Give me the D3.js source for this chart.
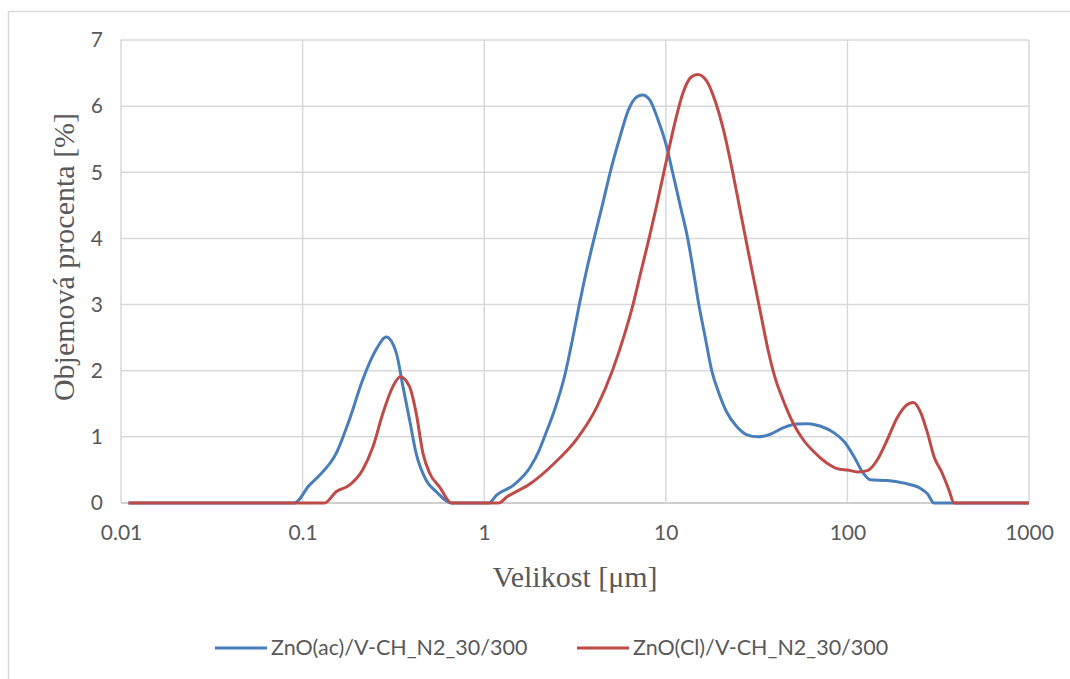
<!DOCTYPE html>
<html>
<head>
<meta charset="utf-8">
<script src="https://cdn.jsdelivr.net/npm/d3@7"></script>
<style>
  html, body { margin: 0; padding: 0; background: #fff; }
  svg { display: block; }
  .tick-label { font-family: Lato, "Liberation Sans", sans-serif; font-size: 21px; fill: #595959; }
  .axis-title { font-family: "Liberation Serif", "DejaVu Serif", serif; font-size: 30px; fill: #595959; }
  .legend-label { font-family: Lato, "Liberation Sans", sans-serif; font-size: 21.5px; fill: #595959; }
</style>
</head>
<body>
<div id="chart"></div>
<script>
  // ── Data (size in µm, volume %) ──
  const acSizes  = [0.011, 0.05, 0.090, 0.109, 0.124, 0.153, 0.181, 0.214, 0.254, 0.289, 0.328, 0.357, 0.388, 0.422, 0.480, 0.545, 0.660,
                    1.06, 1.17, 1.45, 1.79, 2.01, 2.14, 2.45, 2.79, 3.05, 3.33, 3.65, 4.03, 4.47, 4.94, 5.60, 6.22, 6.91, 7.45, 8.17, 9.07,
                    10.1, 10.9, 12.0, 13.2, 14.2, 15.2, 16.5, 17.9, 19.5, 21.6, 24.5, 27.8, 32.2, 37.3, 44.2, 52.4, 60.7, 71.3, 84.5, 95.9,
                    108.8, 121, 134, 166, 205, 253, 276, 300, 1000];
  const acValues = [0, 0, 0, 0.27, 0.42, 0.75, 1.26, 1.86, 2.32, 2.51, 2.27, 1.76, 1.26, 0.75, 0.34, 0.17, 0,
                    0, 0.12, 0.27, 0.54, 0.8, 0.99, 1.42, 1.95, 2.45, 2.98, 3.5, 4.0, 4.5, 5.0, 5.54, 5.94, 6.14, 6.17, 6.09, 5.79,
                    5.39, 5.0, 4.5, 4.0, 3.5, 3.0, 2.5, 2.0, 1.68, 1.38, 1.16, 1.035, 1.0, 1.035, 1.135, 1.195, 1.20, 1.16, 1.06, 0.93,
                    0.70, 0.47, 0.35, 0.34, 0.30, 0.22, 0.14, 0, 0];

  const clSizes  = [0.011, 0.05, 0.132, 0.153, 0.181, 0.214, 0.244, 0.277, 0.314, 0.345, 0.388, 0.422, 0.460, 0.501, 0.569, 0.660,
                    1.2, 1.33, 1.79, 2.41, 3.24, 4.17, 5.08, 5.85, 6.60, 7.3, 8.09, 8.89, 10.1, 11.2, 12.4, 13.8, 15.0, 16.7, 18.9, 21.0,
                    23.4, 25.4, 28.4, 30.9, 33.6, 36.6, 39.8, 44.2, 50.2, 57.0, 64.7, 76.6, 90.7, 100, 113.5, 129, 146, 166, 188, 214,
                    231, 253, 276, 300, 333, 363, 387, 1000];
  const clValues = [0, 0, 0, 0.17, 0.27, 0.50, 0.85, 1.36, 1.76, 1.91, 1.76, 1.36, 0.75, 0.45, 0.24, 0,
                    0, 0.09, 0.29, 0.59, 0.97, 1.45, 2.0, 2.5, 3.0, 3.5, 4.0, 4.49, 5.19, 5.74, 6.19, 6.44, 6.48, 6.39, 6.04, 5.59,
                    4.99, 4.49, 3.81, 3.31, 2.81, 2.31, 1.91, 1.56, 1.21, 0.96, 0.785, 0.61, 0.51, 0.50, 0.47, 0.49, 0.65, 0.96, 1.29, 1.49,
                    1.52, 1.37, 1.06, 0.70, 0.45, 0.19, 0, 0];

  const xTicks = [0.01, 0.1, 1, 10, 100, 1000];
  const xTickLabels = ['0.01', '0.1', '1', '10', '100', '1000'];
  const yTicks = [0, 1, 2, 3, 4, 5, 6, 7];
  const seriesNames = ['ZnO(ac)/V-CH_N2_30/300', 'ZnO(Cl)/V-CH_N2_30/300'];
  const seriesColors = ['#4a7ebb', '#be4b48'];

  // ── Layout ──
  const W = 1070, H = 679;
  const plot = { left: 121, right: 1029, top: 40, bottom: 503 };

  const svg = d3.select('#chart').append('svg')
    .attr('width', W).attr('height', H);

  svg.append('rect')
    .attr('x', 8.5).attr('y', 11.5)
    .attr('width', W + 20).attr('height', H + 20)
    .attr('fill', '#fff').attr('stroke', '#d9d9d9').attr('stroke-width', 1.5);

  const x = d3.scaleLog().domain([0.01, 1000]).range([plot.left, plot.right]);
  const y = d3.scaleLinear().domain([0, 7]).range([plot.bottom, plot.top]);

  // Gridlines
  const grid = svg.append('g');
  grid.selectAll('.hgrid')
    .data(yTicks)
    .join('line')
    .attr('x1', plot.left).attr('x2', plot.right)
    .attr('y1', d => y(d)).attr('y2', d => y(d))
    .attr('stroke', d => d === 0 ? '#bfbfbf' : '#d9d9d9')
    .attr('stroke-width', 1.5);

  grid.selectAll('.vgrid')
    .data(xTicks)
    .join('line')
    .attr('x1', d => x(d)).attr('x2', d => x(d))
    .attr('y1', plot.top).attr('y2', plot.bottom)
    .attr('stroke', '#d9d9d9')
    .attr('stroke-width', 1.5);

  // Axes (labels only, lines drawn as gridlines)
  const xAxis = svg.append('g')
    .attr('transform', `translate(0,${plot.bottom})`)
    .call(d3.axisBottom(x).tickValues(xTicks).tickFormat((d, i) => xTickLabels[i]).tickSize(0).tickPadding(22));
  xAxis.select('.domain').remove();
  xAxis.selectAll('text').attr('class', 'tick-label').attr('fill', null).attr('font-size', null).attr('font-family', null);

  const yAxis = svg.append('g')
    .attr('transform', `translate(${plot.left},0)`)
    .call(d3.axisLeft(y).tickValues(yTicks).tickFormat(d3.format('d')).tickSize(0).tickPadding(18));
  yAxis.select('.domain').remove();
  yAxis.selectAll('text').attr('class', 'tick-label').attr('fill', null).attr('font-size', null).attr('font-family', null);

  // Axis titles
  svg.append('text').attr('class', 'axis-title')
    .attr('x', 575).attr('y', 587)
    .attr('text-anchor', 'middle')
    .text('Velikost [μm]');

  svg.append('text').attr('class', 'axis-title')
    .attr('transform', 'translate(74,257) rotate(-90)')
    .attr('text-anchor', 'middle')
    .text('Objemová procenta [%]');

  // Lines
  const line = d3.line()
    .x(d => x(d[0]))
    .y(d => y(d[1]))
    .curve(d3.curveMonotoneX);

  const series = [
    d3.zip(acSizes, acValues),
    d3.zip(clSizes, clValues)
  ];

  series.forEach((pts, i) => {
    svg.append('path')
      .datum(pts)
      .attr('fill', 'none')
      .attr('stroke', seriesColors[i])
      .attr('stroke-width', 3)
      .attr('stroke-linejoin', 'round')
      .attr('d', line);
  });

  // Legend
  const legendPos = [215, 577];
  seriesNames.forEach((name, i) => {
    const g = svg.append('g').attr('transform', `translate(${legendPos[i]},648)`);
    g.append('line')
      .attr('x1', 0).attr('x2', 52)
      .attr('y1', 0).attr('y2', 0)
      .attr('stroke', seriesColors[i]).attr('stroke-width', 3);
    g.append('text').attr('class', 'legend-label')
      .attr('x', 56).attr('y', 7)
      .text(name);
  });
</script>
</body>
</html>
